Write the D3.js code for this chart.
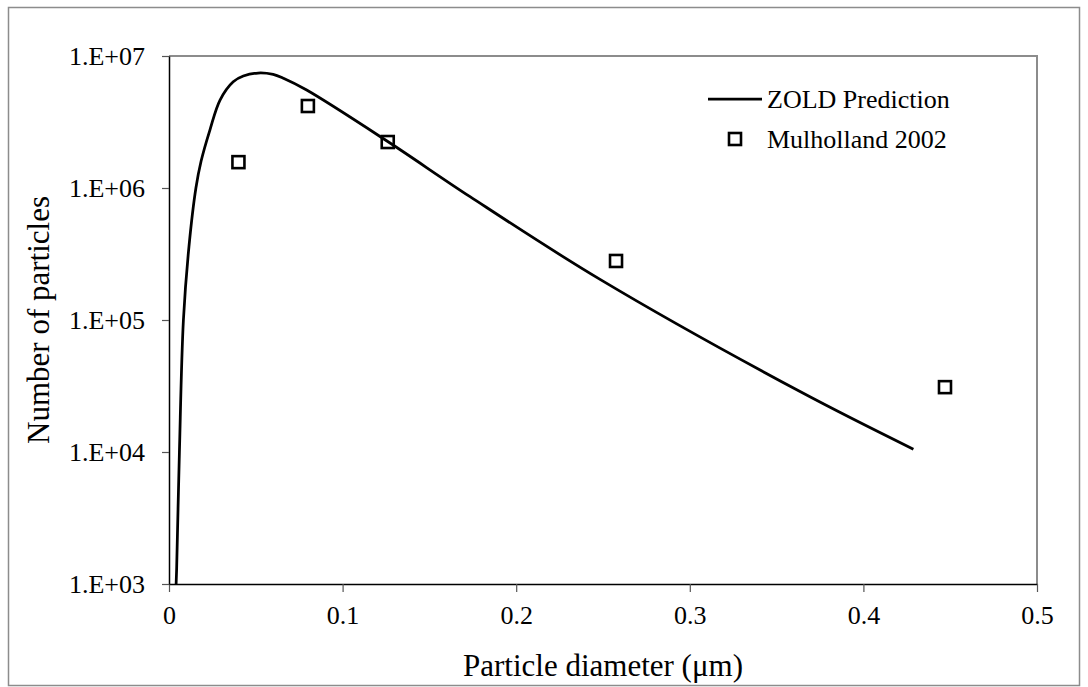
<!DOCTYPE html>
<html>
<head>
<meta charset="utf-8">
<script src="https://cdn.jsdelivr.net/npm/d3@7"></script>
<style>
  html, body { margin: 0; padding: 0; background: #fff; }
  svg { display: block; }
  text { font-family: "Liberation Serif", "Times New Roman", serif; fill: #000; }
</style>
</head>
<body>
<svg id="chart" width="1088" height="687"></svg>
<script>
// ---- Data ----
const xTicks = [0, 0.1, 0.2, 0.3, 0.4, 0.5];
const xTickLabels = ["0", "0.1", "0.2", "0.3", "0.4", "0.5"];
const yTicks = [1e3, 1e4, 1e5, 1e6, 1e7];
const yTickLabels = ["1.E+03", "1.E+04", "1.E+05", "1.E+06", "1.E+07"];

// ZOLD Prediction curve (diameter in µm, number of particles)
const predX = [0.0041, 0.0044, 0.0060, 0.0083, 0.0115, 0.0155, 0.0185, 0.0236, 0.0294, 0.0370, 0.0428, 0.0513, 0.0600, 0.0659, 0.0793, 0.1260, 0.1734, 0.2483, 0.3635, 0.4288];
const predY = [1.0e3, 1.3e3, 1.0e4, 1.0e5, 3.6e5, 1.0e6, 1.6e6, 2.76e6, 4.64e6, 6.38e6, 7.05e6, 7.43e6, 7.25e6, 6.78e6, 5.52e6, 2.25e6, 8.6e5, 2.03e5, 2.87e4, 1.05e4];

// Mulholland 2002 measurements
const measX = [0.040, 0.080, 0.126, 0.2575, 0.447];
const measY = [1.57e6, 4.18e6, 2.23e6, 2.8e5, 3.1e4];

const seriesNames = ["ZOLD Prediction", "Mulholland 2002"];
const xTitle = "Particle diameter (\u03bcm)";
const yTitle = "Number of particles";

// ---- Layout ----
const svg = d3.select("#chart");
const L = 169, R = 1037, T = 56, B = 584;
const serif = '"Liberation Serif", "Times New Roman", serif';

const x = d3.scaleLinear().domain([0, 0.5]).range([L, R]);
const y = d3.scaleLog().domain([1e3, 1e7]).range([B, T]);

// Outer border
svg.append("rect")
  .attr("x", 8.5).attr("y", 7.5).attr("width", 1071).attr("height", 678)
  .attr("fill", "none").attr("stroke", "#8c8c8c").attr("stroke-width", 1.5);

// Plot area border (top & right gray)
svg.append("path")
  .attr("d", `M${L},${T}H${R}V${B}`)
  .attr("fill", "none").attr("stroke", "#8c8c8c").attr("stroke-width", 2);

// X axis
const xAxis = d3.axisBottom(x)
  .tickValues(xTicks)
  .tickFormat((d, i) => xTickLabels[i])
  .tickSize(8).tickSizeOuter(0).tickPadding(14);
const gx = svg.append("g").attr("transform", `translate(0,${B})`).call(xAxis)
  .attr("font-family", serif).attr("font-size", 26);
gx.select(".domain").attr("stroke", "#000").attr("stroke-width", 1.5);
gx.selectAll(".tick line").attr("stroke", "#555").attr("stroke-width", 1.2);
gx.selectAll(".tick text").attr("fill", "#000");

// Y axis
const yAxis = d3.axisLeft(y)
  .tickValues(yTicks)
  .tickFormat((d, i) => yTickLabels[i])
  .tickSize(7).tickSizeOuter(0).tickPadding(17);
const gy = svg.append("g").attr("transform", `translate(${L},0)`).call(yAxis)
  .attr("font-family", serif).attr("font-size", 26);
gy.select(".domain").attr("stroke", "#000").attr("stroke-width", 1.5);
gy.selectAll(".tick line").attr("stroke", "#555").attr("stroke-width", 1.2);
gy.selectAll(".tick text").attr("fill", "#000");

// Clip
svg.append("clipPath").attr("id", "clip")
  .append("rect").attr("x", L).attr("y", T).attr("width", R - L).attr("height", B - T);

// Prediction curve
const predData = predX.map((d, i) => [d, predY[i]]);
const line = d3.line()
  .x(d => x(d[0])).y(d => y(d[1]))
  .curve(d3.curveCatmullRom.alpha(0.5));
svg.append("path")
  .datum(predData)
  .attr("clip-path", "url(#clip)")
  .attr("d", line)
  .attr("fill", "none").attr("stroke", "#000").attr("stroke-width", 2.75)
  .attr("stroke-linejoin", "round");

// Measurement markers
const ms = 12;
svg.append("g").selectAll("rect")
  .data(measX.map((d, i) => [d, measY[i]]))
  .join("rect")
  .attr("x", d => x(d[0]) - ms / 2)
  .attr("y", d => y(d[1]) - ms / 2)
  .attr("width", ms).attr("height", ms)
  .attr("fill", "none").attr("stroke", "#000").attr("stroke-width", 2.6);

// Legend
const lg = svg.append("g");
lg.append("line").attr("x1", 708).attr("x2", 762).attr("y1", 99).attr("y2", 99)
  .attr("stroke", "#000").attr("stroke-width", 2.75);
lg.append("text").attr("x", 767).attr("y", 108).attr("font-size", 26).text(seriesNames[0]);
lg.append("rect").attr("x", 735 - ms / 2).attr("y", 139 - ms / 2).attr("width", ms).attr("height", ms)
  .attr("fill", "none").attr("stroke", "#000").attr("stroke-width", 2.6);
lg.append("text").attr("x", 767).attr("y", 148).attr("font-size", 26).text(seriesNames[1]);

// Axis titles
svg.append("text")
  .attr("x", (L + R) / 2).attr("y", 676)
  .attr("text-anchor", "middle").attr("font-size", 31)
  .text(xTitle);
svg.append("text")
  .attr("transform", `translate(49,${(T + B) / 2}) rotate(-90)`)
  .attr("text-anchor", "middle").attr("font-size", 31)
  .text(yTitle);
</script>
</body>
</html>
